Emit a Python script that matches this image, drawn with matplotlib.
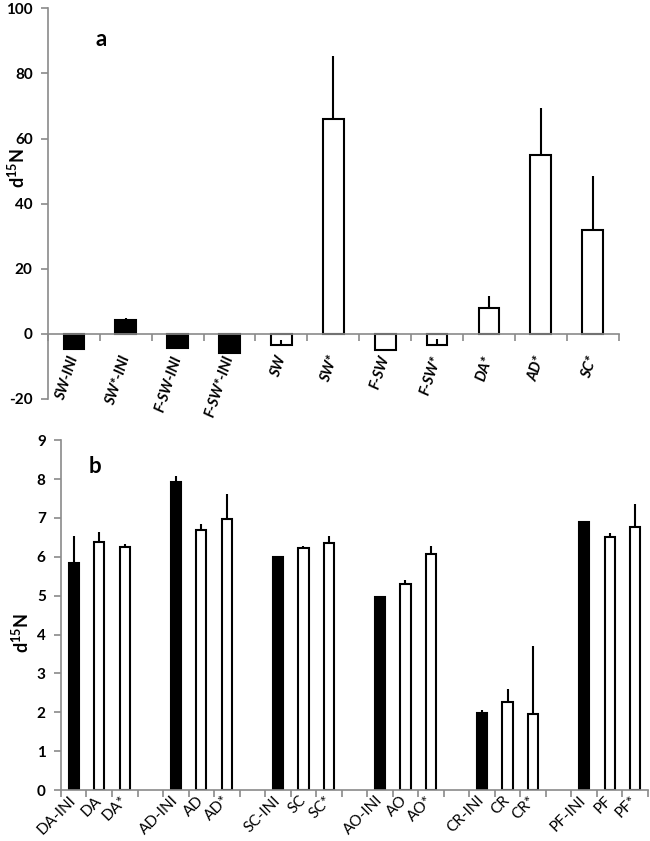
import numpy as np
import matplotlib
matplotlib.use('Agg')
import matplotlib.pyplot as plt
from matplotlib.ticker import FixedLocator

plt.rcParams['font.family'] = ['Lato', 'DejaVu Sans']
plt.rcParams['axes.unicode_minus'] = False
# mathtext is only used for the superscript in the y label, which is bold
plt.rcParams['mathtext.fontset'] = 'custom'
plt.rcParams['mathtext.rm'] = 'Lato:bold'
plt.rcParams['mathtext.bf'] = 'Lato:bold'

# panel a
a_labels = ['SW-INI', 'SW*-INI', 'F-SW-INI', 'F-SW*-INI', 'SW', 'SW*',
            'F-SW', 'F-SW*', 'DA*', 'AD*', 'SC*']
a_values = [-4.8, 4.3, -4.3, -5.8, -3.3, 66.1, -5.0, -3.5, 7.8, 54.9, 32.0]
a_errors = [0.0, 0.7, 0.0, 0.0, 1.3, 19.4, 0.0, 2.0, 3.8, 14.6, 16.4]
a_initial = [True, True, True, True, False, False, False, False, False, False, False]

# panel b: six sites, each INI / incubated / incubated*
b_groups = ['DA', 'AD', 'SC', 'AO', 'CR', 'PF']
b_labels = ['DA-INI', 'DA', 'DA*', 'AD-INI', 'AD', 'AD*', 'SC-INI', 'SC', 'SC*',
            'AO-INI', 'AO', 'AO*', 'CR-INI', 'CR', 'CR*', 'PF-INI', 'PF', 'PF*']
b_values = [5.84, 6.37, 6.25, 7.93, 6.68, 6.97, 5.99, 6.22, 6.36,
            4.96, 5.30, 6.06, 1.97, 2.27, 1.95, 6.90, 6.52, 6.76]
b_errors = [0.70, 0.28, 0.07, 0.15, 0.17, 0.64, 0.02, 0.06, 0.18,
            0.04, 0.10, 0.23, 0.09, 0.32, 1.75, 0.03, 0.08, 0.61]
b_initial = [True, False, False] * len(b_groups)

AXIS_GREY = '#8a8a8a'
YLABEL = r'd$^{15}$N'


def style_axes(ax, n_slots, ylim, yticks):
    ax.set_xlim(0, n_slots)
    ax.set_ylim(*ylim)
    ax.set_yticks(yticks, labels=[str(v) for v in yticks], fontweight='bold',
                  fontsize=11)
    for s in ['top', 'right']:
        ax.spines[s].set_visible(False)
    ax.spines['left'].set_color(AXIS_GREY)
    ax.spines['bottom'].set_color(AXIS_GREY)
    ax.spines['left'].set_linewidth(1.2)
    ax.spines['bottom'].set_linewidth(1.2)
    ax.spines['bottom'].set_position(('data', 0))
    ax.tick_params(axis='y', direction='out', length=5, width=1.2, color=AXIS_GREY, pad=6)
    ax.xaxis.set_minor_locator(FixedLocator(np.arange(0, n_slots + 1)))
    ax.tick_params(axis='x', which='minor', direction='out', length=5, width=1.2,
                   color=AXIS_GREY)
    ax.tick_params(axis='x', which='major', length=0)


def draw_bars(ax, x, values, errors, initial):
    colors = ['black' if i else 'white' for i in initial]
    ax.bar(x, values, width=0.4, color=colors, edgecolor='black', linewidth=1.5, zorder=2)
    ax.errorbar(x, values, yerr=[np.zeros(len(errors)), errors], fmt='none',
                ecolor='black', elinewidth=1.5, capsize=0, zorder=3)


fig = plt.figure(figsize=(6.5, 8.41), dpi=100)

# --- panel a
ax1 = fig.add_axes([0.0738, 0.5256, 0.878, 0.4645])
xa = np.arange(len(a_labels)) + 0.5
draw_bars(ax1, xa, a_values, a_errors, a_initial)
style_axes(ax1, len(a_labels), (-20, 100), np.arange(-20, 101, 20))
ax1.set_xticks(xa)
ax1.set_xticklabels(a_labels, rotation=72, ha='right', va='center',
                    rotation_mode='anchor', fontsize=10.5, fontstyle='italic',
                    fontweight='bold')
ax1.tick_params(axis='x', which='major', pad=16)
ax1.set_ylabel(YLABEL, fontsize=13, fontweight='bold')
ax1.yaxis.set_label_coords(-0.036, 0.59)
ax1.text(0.093, 0.921, 'a', transform=ax1.transAxes, fontsize=16, fontweight='bold',
         ha='center', va='center')

# --- panel b
ax2 = fig.add_axes([0.0938, 0.0606, 0.903, 0.416])
xb = np.array([g * 4 + k for g in range(len(b_groups)) for k in range(3)]) + 0.5
draw_bars(ax2, xb, b_values, b_errors, b_initial)
n_slots_b = len(b_groups) * 4 - 1
style_axes(ax2, n_slots_b, (0, 9), np.arange(0, 10, 1))
ax2.set_xticks(xb)
ax2.set_xticklabels(b_labels, rotation=45, ha='right', va='center',
                    rotation_mode='anchor', fontsize=11)
ax2.tick_params(axis='x', which='major', pad=6)
ax2.set_ylabel(YLABEL, fontsize=13, fontweight='bold')
ax2.yaxis.set_label_coords(-0.05, 0.45)
ax2.text(0.058, 0.926, 'b', transform=ax2.transAxes, fontsize=16, fontweight='bold',
         ha='center', va='center')

fig.savefig('out.png', dpi=100)
